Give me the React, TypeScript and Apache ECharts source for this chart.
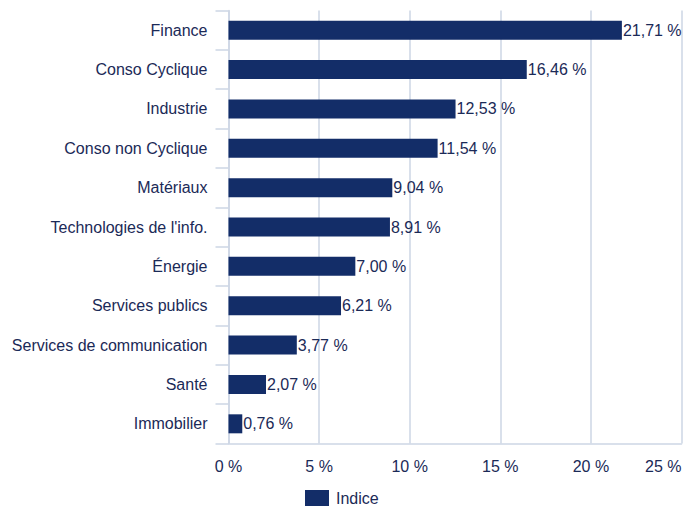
import React, { useEffect, useRef } from "react";
import * as echarts from "echarts";

const categories = [
  "Finance",
  "Conso Cyclique",
  "Industrie",
  "Conso non Cyclique",
  "Matériaux",
  "Technologies de l'info.",
  "Énergie",
  "Services publics",
  "Services de communication",
  "Santé",
  "Immobilier",
];
const values = [21.71, 16.46, 12.53, 11.54, 9.04, 8.91, 7.0, 6.21, 3.77, 2.07, 0.76];
const seriesName = "Indice";
const xMin = 0;
const xMax = 25;
const xInterval = 5;

const FONT = "'Liberation Sans', Arial, Helvetica, sans-serif";
const TEXT = "#1b2a57";
const BAR = "#132d68";
const LINE = "#cdd6e5";

export default function App() {
  const ref = useRef<HTMLDivElement>(null);
  useEffect(() => {
    document.body.style.margin = "0";
    if (!ref.current) return;
    const chart = echarts.init(ref.current, undefined, { renderer: "svg" });
    chart.setOption({
      animation: false,
      textStyle: { fontFamily: FONT },
      grid: { left: 228.5, right: 14.5, top: 10.5, bottom: 63.5, containLabel: false },
      legend: {
        data: [seriesName],
        left: 305,
        top: 490,
        padding: 0,
        itemWidth: 24,
        itemHeight: 16,
        itemGap: 7,
        icon: "rect",
        textStyle: { color: TEXT, fontSize: 16, fontFamily: FONT, padding: [0, 0, 0, 2] },
      },
      xAxis: {
        type: "value",
        min: xMin,
        max: xMax,
        interval: xInterval,
        axisLine: { show: true, lineStyle: { color: LINE, width: 1.5 } },
        axisTick: { show: false },
        splitLine: { show: true, lineStyle: { color: LINE, width: 1.5 } },
        axisLabel: {
          color: TEXT,
          fontSize: 16,
          fontFamily: FONT,
          margin: 15,
          formatter: "{value} %",
          alignMaxLabel: "right",
        },
      },
      yAxis: {
        type: "category",
        data: categories,
        inverse: true,
        axisLine: { show: true, lineStyle: { color: LINE, width: 1.5 } },
        axisTick: { show: true, length: 13, lineStyle: { color: LINE, width: 1.5 } },
        axisLabel: { color: TEXT, fontSize: 16, fontFamily: FONT, margin: 21, padding: [3, 0, 0, 0] },
        splitLine: { show: false },
      },
      series: [
        {
          name: seriesName,
          type: "bar",
          data: values,
          barWidth: 19,
          itemStyle: { color: BAR },
          label: {
            show: true,
            position: "right",
            distance: 1,
            color: TEXT,
            fontSize: 16,
            fontFamily: FONT,
            padding: [3, 0, 0, 0],
            formatter: (p: any) => p.value.toFixed(2).replace(".", ",") + " %",
          },
        },
      ],
    });
    return () => chart.dispose();
  }, []);
  return <div ref={ref} style={{ width: 696, height: 507 }} />;
}
